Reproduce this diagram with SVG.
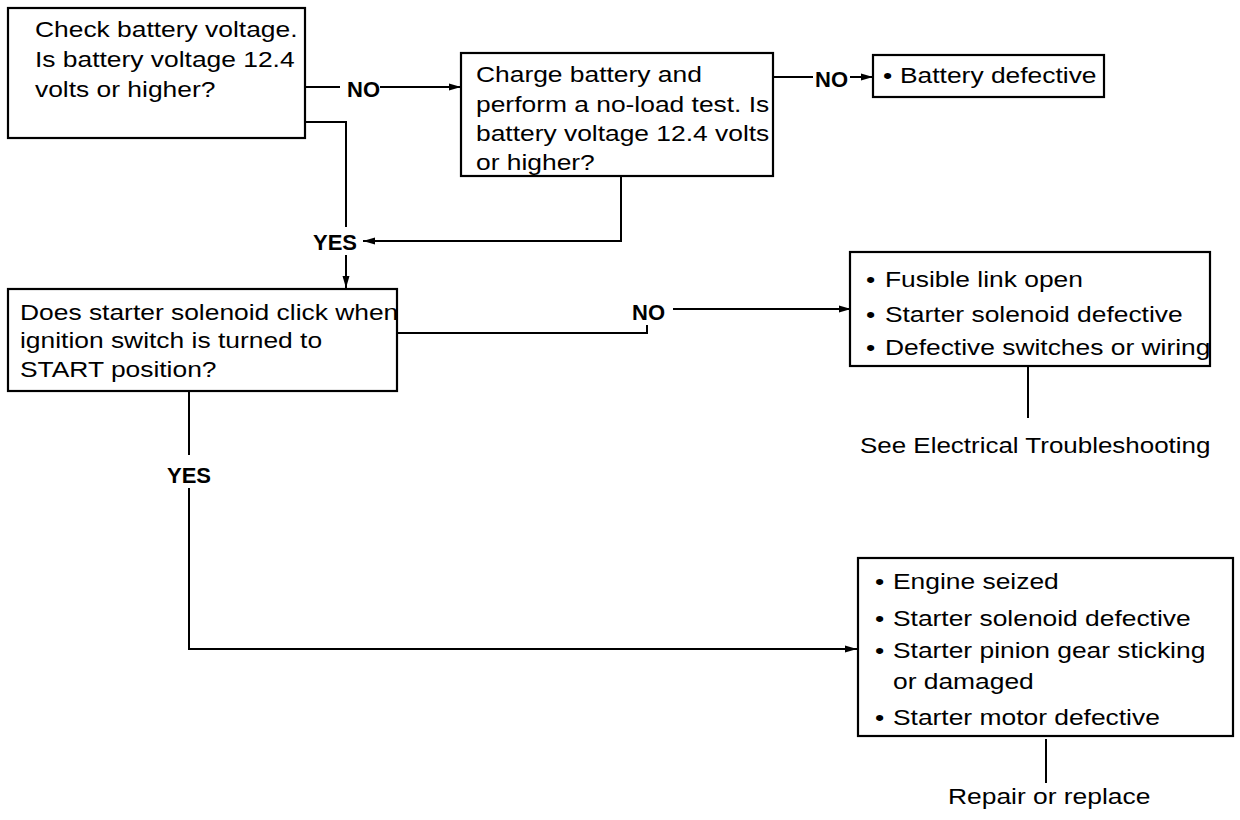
<svg xmlns="http://www.w3.org/2000/svg" width="1240" height="820" viewBox="0 0 1240 820">
<defs>
<marker id="arr" markerUnits="userSpaceOnUse" markerWidth="12" markerHeight="8" refX="12" refY="4" orient="auto">
<path d="M0,0.5 L12,4 L0,7.5 z" fill="#000"/>
</marker>
<style>
.box{fill:#fff;stroke:#000;stroke-width:2.2}
.ln{fill:none;stroke:#000;stroke-width:2}
.t{font-family:"Liberation Sans",Arial,Helvetica,sans-serif;font-size:22px;fill:#000}
.lbl{font-family:"Liberation Sans",Arial,Helvetica,sans-serif;font-size:22px;font-weight:bold;fill:#000}
</style>
</defs>
<rect width="1240" height="820" fill="#fff"/>

<g id="connectors">
<path class="ln" d="M305,87 H340"/>
<path class="ln" d="M380,87 H461" marker-end="url(#arr)"/>
<path class="ln" d="M305,122 H346 V227"/>
<path class="ln" d="M346,255 V288" marker-end="url(#arr)"/>
<path class="ln" d="M621,176 V241 H363" marker-end="url(#arr)"/>
<path class="ln" d="M773,77 H813"/>
<path class="ln" d="M850,77 H873" marker-end="url(#arr)"/>
<path class="ln" d="M397,333 H647 V325"/>
<path class="ln" d="M673,309 H851" marker-end="url(#arr)"/>
<path class="ln" d="M189,387 V455"/>
<path class="ln" d="M189,488 V649 H857" marker-end="url(#arr)"/>
<path class="ln" d="M1028,367 V418"/>
<path class="ln" d="M1046,739 V783"/>
<text class="lbl" x="347" y="97">NO</text>
<text class="lbl" x="313" y="250">YES</text>
<text class="lbl" x="815" y="87">NO</text>
<text class="lbl" x="632" y="320">NO</text>
<text class="lbl" x="167" y="483">YES</text>
</g>

<g id="check-battery">
<rect class="box" x="8" y="8" width="297" height="130"/>
<text class="t" transform="translate(35,37) scale(1.2,1)"><tspan x="0" y="0">Check battery voltage.</tspan><tspan x="0" y="30">Is battery voltage 12.4</tspan><tspan x="0" y="60">volts or higher?</tspan></text>
</g>

<g id="charge-battery">
<rect class="box" x="461" y="53" width="312" height="123"/>
<text class="t" transform="translate(476,82) scale(1.2,1)"><tspan x="0" y="0">Charge battery and</tspan><tspan x="0" y="30">perform a no-load test. Is</tspan><tspan x="0" y="59.5">battery voltage 12.4 volts</tspan><tspan x="0" y="88">or higher?</tspan></text>
</g>

<g id="battery-defective">
<rect class="box" x="873" y="55" width="231" height="42"/>
<text class="t" transform="translate(883,83) scale(1.2,1)"><tspan x="0" y="0">•</tspan><tspan x="14.2" y="0">Battery defective</tspan></text>
</g>

<g id="solenoid-click">
<rect class="box" x="8" y="289" width="389" height="102"/>
<text class="t" transform="translate(20,320) scale(1.2,1)"><tspan x="0" y="0">Does starter solenoid click when</tspan><tspan x="0" y="28">ignition switch is turned to</tspan><tspan x="0" y="57">START position?</tspan></text>
</g>

<g id="no-click-causes">
<rect class="box" x="850" y="252" width="360" height="114"/>
<text class="t" transform="translate(866,287) scale(1.2,1)"><tspan x="0" y="0">•</tspan><tspan x="15.8" y="0">Fusible link open</tspan><tspan x="0" y="35">•</tspan><tspan x="15.8" y="35">Starter solenoid defective</tspan><tspan x="0" y="68">•</tspan><tspan x="15.8" y="68">Defective switches or wiring</tspan></text>
<text class="t" transform="translate(860,453) scale(1.18,1)">See Electrical Troubleshooting</text>
</g>

<g id="click-causes">
<rect class="box" x="858" y="558" width="375" height="178"/>
<text class="t" transform="translate(875,589) scale(1.2,1)"><tspan x="0" y="0">•</tspan><tspan x="15" y="0">Engine seized</tspan><tspan x="0" y="37">•</tspan><tspan x="15" y="37">Starter solenoid defective</tspan><tspan x="0" y="69">•</tspan><tspan x="15" y="69">Starter pinion gear sticking</tspan><tspan x="15" y="100">or damaged</tspan><tspan x="0" y="136">•</tspan><tspan x="15" y="136">Starter motor defective</tspan></text>
<text class="t" transform="translate(948,804) scale(1.2,1)">Repair or replace</text>
</g>
</svg>
